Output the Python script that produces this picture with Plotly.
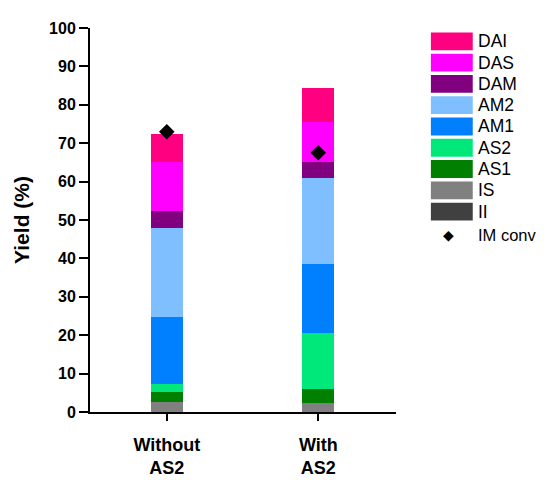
import plotly.graph_objects as go

categories = ["Without<br>AS2", "With<br>AS2"]
series_names = ["II", "IS", "AS1", "AS2", "AM1", "AM2", "DAM", "DAS", "DAI"]
II = [0.0, 0.0]
IS = [2.7, 2.3]
AS1 = [2.4, 3.7]
AS2 = [2.3, 14.5]
AM1 = [17.4, 18.0]
AM2 = [23.1, 22.5]
DAM = [4.5, 4.0]
DAS = [12.6, 10.5]
DAI = [7.3, 8.8]
IM_conv = [73.0, 67.5]

series_values = [II, IS, AS1, AS2, AM1, AM2, DAM, DAS, DAI]
colors = ["#404040", "#808080", "#007F00", "#00E87A", "#0080FF", "#80BFFF", "#800080", "#FF00FF", "#FF0080"]

xpos = list(range(len(categories)))
fig = go.Figure()
for name, vals, col in zip(series_names, series_values, colors):
    fig.add_trace(go.Bar(x=xpos, y=vals, name=name, marker=dict(color=col, line=dict(width=0)),
                         width=0.21, showlegend=False))
fig.add_trace(go.Scatter(x=xpos, y=IM_conv, mode="markers", name="IM conv",
                         marker=dict(symbol="diamond", size=12, color="black"), showlegend=False))

font = "Arial, Liberation Sans, sans-serif"
OFF = 8  # page body margin
FW, FH = 547 - OFF, 480 - OFF
L, R, T, B = 89, 396, 24, 412  # plot area in window pixels
fig.update_layout(
    width=FW, height=FH, barmode="stack", bargap=0,
    plot_bgcolor="white", paper_bgcolor="white",
    margin=dict(l=L - OFF, r=FW - (R - OFF), t=T - OFF, b=FH - (B - OFF)),
    font=dict(family=font, color="black"),
    xaxis=dict(range=[-0.507, 1.513], tickmode="array", tickvals=xpos,
               ticktext=["<b>" + c + "</b>" for c in categories],
               showline=True, linecolor="black", linewidth=2, ticks="outside", ticklen=7, tickwidth=2,
               tickcolor="black", showgrid=False, zeroline=False, tickfont=dict(size=18, family=font),
               ticklabelstandoff=8, automargin=False),
    yaxis=dict(range=[0, 100], tickvals=list(range(0, 101, 10)),
               ticktext=["<b>%d</b>" % v for v in range(0, 101, 10)],
               showline=True, linecolor="black", linewidth=2, ticks="outside", ticklen=9, tickwidth=2,
               tickcolor="black", showgrid=False, zeroline=False, tickfont=dict(size=16, family=font),
               title=dict(text="<b>Yield (%)</b>", font=dict(size=21, family=font), standoff=14)),
)

# custom legend (top to bottom: reverse of stacking order)
W = float(R - L)
H = float(B - T)
def px2x(px):
    return (px - L) / W
def py2y(py):
    return (B - py) / H

row0 = 37.5
step = 21.5
legend_items = list(zip(series_names, colors))[::-1]
for i, (name, col) in enumerate(legend_items):
    cy = row0 + i * step
    fig.add_shape(type="rect", xref="paper", yref="paper",
                  x0=px2x(431), x1=px2x(473), y0=py2y(cy + 9), y1=py2y(cy - 9),
                  fillcolor=col, line=dict(width=0))
    fig.add_annotation(xref="paper", yref="paper", x=px2x(476), y=py2y(cy), text=name,
                       showarrow=False, xanchor="left", yanchor="middle", font=dict(size=17.5, family=font))
cy = row0 + len(legend_items) * step + 2
fig.add_annotation(xref="paper", yref="paper", x=px2x(449), y=py2y(cy), text="◆",
                   showarrow=False, xanchor="center", yanchor="middle", font=dict(size=14, family="DejaVu Sans"))
fig.add_annotation(xref="paper", yref="paper", x=px2x(476), y=py2y(cy), text="IM conv",
                   showarrow=False, xanchor="left", yanchor="middle", font=dict(size=16.5, family=font))

fig.write_html("out.html")
